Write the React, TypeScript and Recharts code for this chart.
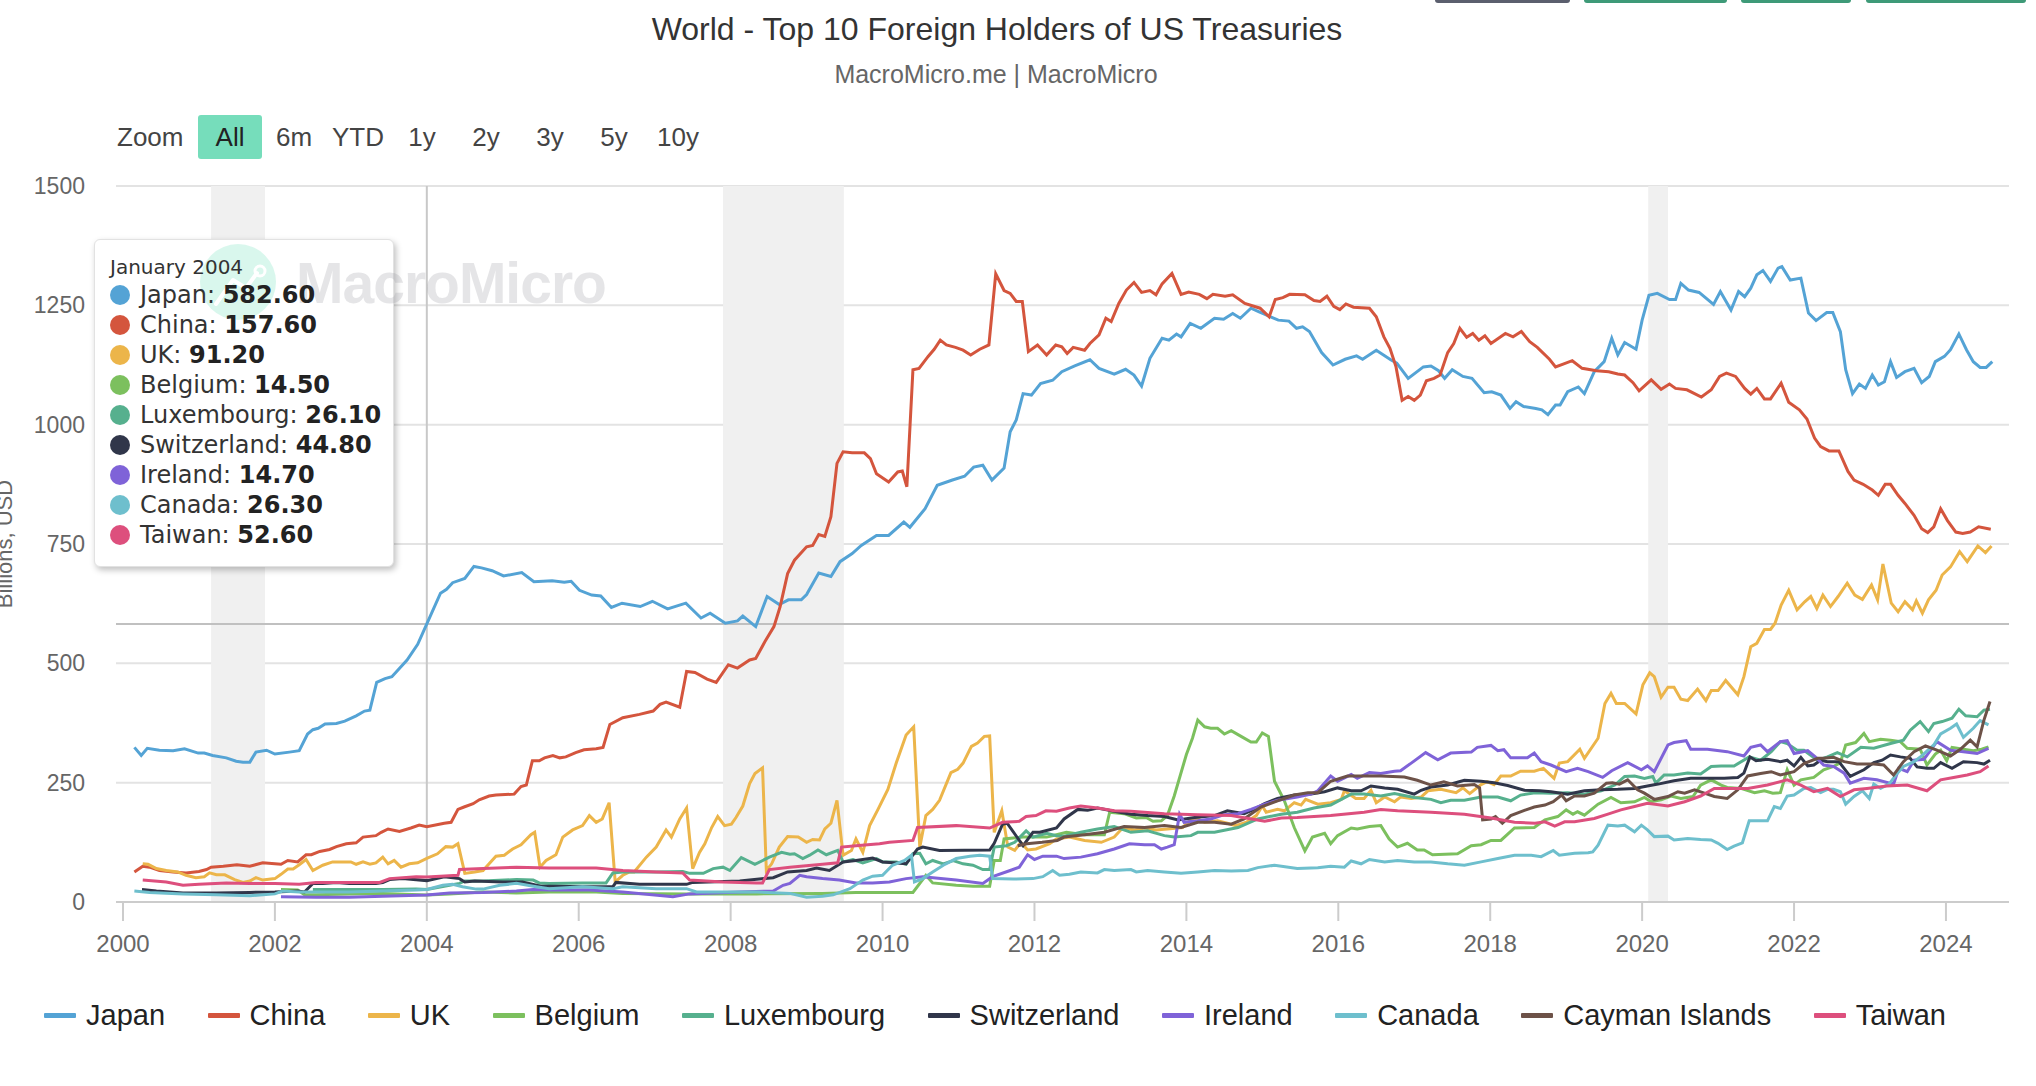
import React from "react";
import {
  LineChart,
  Line,
  XAxis,
  YAxis,
  CartesianGrid,
  ReferenceArea,
  ReferenceLine,
} from "recharts";

// [year, billions USD]
const japan = [
  [2000.15, 324], [2000.24, 307], [2000.32, 322], [2000.48, 318], [2000.66, 317], [2000.81, 321], [2000.99, 312],
  [2001.07, 312], [2001.18, 307], [2001.36, 302], [2001.49, 295], [2001.58, 293], [2001.67, 293], [2001.75, 314],
  [2001.89, 318], [2002.0, 310], [2002.19, 314], [2002.32, 317], [2002.43, 352], [2002.5, 361], [2002.57, 364],
  [2002.66, 373], [2002.81, 374], [2002.92, 379], [2003.07, 390], [2003.18, 400], [2003.25, 402], [2003.34, 460],
  [2003.45, 468], [2003.54, 472], [2003.74, 507], [2003.88, 540], [2004.0, 582.6], [2004.18, 647], [2004.26, 655],
  [2004.34, 669], [2004.5, 678], [2004.62, 703], [2004.72, 700], [2004.86, 694], [2005.01, 683], [2005.25, 690],
  [2005.41, 671], [2005.65, 673], [2005.81, 670], [2005.9, 672], [2006.01, 653], [2006.17, 643], [2006.29, 641],
  [2006.43, 617], [2006.57, 626], [2006.81, 619], [2006.97, 630], [2007.17, 614], [2007.41, 626], [2007.61, 595],
  [2007.73, 605], [2007.93, 584], [2008.09, 589], [2008.16, 599], [2008.33, 577], [2008.48, 640], [2008.64, 623],
  [2008.76, 633], [2008.93, 633], [2009.0, 644], [2009.16, 689], [2009.32, 682], [2009.44, 713], [2009.6, 730],
  [2009.72, 747], [2009.92, 768], [2010.08, 768], [2010.28, 796], [2010.36, 785], [2010.56, 824], [2010.72, 873],
  [2010.92, 884], [2011.08, 892], [2011.2, 911], [2011.32, 915], [2011.44, 884], [2011.6, 909], [2011.68, 985],
  [2011.76, 1010], [2011.85, 1065], [2011.96, 1062], [2012.08, 1086], [2012.24, 1093], [2012.36, 1111],
  [2012.53, 1123], [2012.73, 1136], [2012.85, 1118], [2013.05, 1106], [2013.2, 1116], [2013.31, 1104],
  [2013.41, 1081], [2013.52, 1139], [2013.68, 1181], [2013.77, 1177], [2013.87, 1190], [2013.93, 1184],
  [2014.05, 1212], [2014.19, 1202], [2014.37, 1223], [2014.49, 1221], [2014.61, 1233], [2014.71, 1223],
  [2014.85, 1244], [2014.95, 1237], [2015.05, 1230], [2015.21, 1219], [2015.35, 1217], [2015.45, 1202],
  [2015.53, 1205], [2015.62, 1195], [2015.78, 1151], [2015.93, 1125], [2016.09, 1137], [2016.24, 1144],
  [2016.32, 1137], [2016.5, 1156], [2016.69, 1136], [2016.77, 1129], [2016.92, 1097], [2017.12, 1121],
  [2017.22, 1123], [2017.32, 1113], [2017.4, 1097], [2017.5, 1115], [2017.64, 1101], [2017.76, 1097],
  [2017.92, 1067], [2018.02, 1069], [2018.14, 1062], [2018.26, 1034], [2018.34, 1048], [2018.44, 1038],
  [2018.6, 1034], [2018.68, 1031], [2018.76, 1021], [2018.86, 1041], [2018.92, 1041], [2019.02, 1069],
  [2019.16, 1079], [2019.24, 1065], [2019.37, 1111], [2019.5, 1132], [2019.6, 1181], [2019.68, 1146],
  [2019.77, 1172], [2019.92, 1158], [2020.0, 1219], [2020.09, 1271], [2020.2, 1275], [2020.36, 1262],
  [2020.44, 1262], [2020.51, 1296], [2020.61, 1282], [2020.75, 1277], [2020.94, 1252], [2021.03, 1279],
  [2021.17, 1240], [2021.27, 1279], [2021.35, 1268], [2021.43, 1286], [2021.51, 1314], [2021.59, 1323],
  [2021.69, 1300], [2021.79, 1328], [2021.84, 1331], [2021.95, 1303], [2022.09, 1307], [2022.19, 1234],
  [2022.29, 1218], [2022.43, 1235], [2022.51, 1235], [2022.61, 1195], [2022.68, 1115], [2022.77, 1065],
  [2022.86, 1085], [2022.94, 1076], [2023.03, 1104], [2023.11, 1083], [2023.19, 1090], [2023.27, 1132],
  [2023.35, 1099], [2023.46, 1111], [2023.58, 1118], [2023.68, 1088], [2023.78, 1101], [2023.86, 1132],
  [2023.98, 1143], [2024.06, 1157], [2024.17, 1190], [2024.27, 1157], [2024.36, 1132], [2024.45, 1120],
  [2024.53, 1120], [2024.61, 1132],
];

const china = [
  [2000.15, 63], [2000.26, 75], [2000.35, 73], [2000.48, 66], [2000.66, 63], [2000.83, 61], [2001.0, 64],
  [2001.1, 68], [2001.16, 73], [2001.32, 75], [2001.5, 78], [2001.67, 75], [2001.84, 82], [2002.0, 80],
  [2002.08, 79], [2002.17, 87], [2002.3, 84], [2002.41, 99], [2002.48, 99], [2002.59, 106], [2002.72, 110],
  [2002.81, 116], [2002.94, 122], [2003.07, 124], [2003.16, 136], [2003.33, 139], [2003.4, 146], [2003.49, 153],
  [2003.64, 148], [2003.79, 155], [2003.9, 161], [2004.0, 157.6], [2004.23, 165], [2004.32, 167], [2004.41, 194],
  [2004.49, 199], [2004.61, 206], [2004.69, 214], [2004.82, 222], [2004.91, 224], [2005.15, 226], [2005.24, 242],
  [2005.31, 245], [2005.39, 296], [2005.48, 296], [2005.55, 302], [2005.66, 307], [2005.75, 302], [2005.83, 304],
  [2005.96, 313], [2006.07, 319], [2006.23, 321], [2006.32, 324], [2006.41, 372], [2006.58, 386], [2006.8, 393],
  [2006.98, 400], [2007.07, 414], [2007.15, 419], [2007.33, 408], [2007.42, 483], [2007.53, 481], [2007.69, 467],
  [2007.81, 460], [2007.97, 497], [2008.09, 490], [2008.25, 507], [2008.33, 510], [2008.45, 545], [2008.57, 577],
  [2008.65, 618], [2008.75, 688], [2008.84, 716], [2009.0, 744], [2009.08, 747], [2009.16, 770], [2009.24, 766],
  [2009.32, 807], [2009.4, 919], [2009.48, 943], [2009.6, 941], [2009.76, 941], [2009.84, 929], [2009.92, 897],
  [2010.08, 880], [2010.2, 901], [2010.26, 903], [2010.32, 870], [2010.4, 1115], [2010.48, 1118], [2010.6, 1143],
  [2010.68, 1158], [2010.76, 1177], [2010.84, 1167], [2010.96, 1162], [2011.06, 1156], [2011.16, 1146],
  [2011.28, 1158], [2011.4, 1167], [2011.49, 1316], [2011.6, 1281], [2011.68, 1275], [2011.76, 1258],
  [2011.84, 1258], [2011.92, 1153], [2012.04, 1167], [2012.16, 1146], [2012.28, 1167], [2012.36, 1163],
  [2012.43, 1149], [2012.51, 1162], [2012.66, 1156], [2012.73, 1170], [2012.85, 1188], [2012.94, 1223],
  [2013.01, 1216], [2013.11, 1254], [2013.21, 1282], [2013.31, 1298], [2013.41, 1277], [2013.52, 1281],
  [2013.6, 1272], [2013.68, 1295], [2013.81, 1317], [2013.93, 1273], [2014.03, 1278], [2014.17, 1273],
  [2014.27, 1264], [2014.35, 1273], [2014.51, 1269], [2014.61, 1272], [2014.77, 1254], [2014.97, 1244],
  [2015.09, 1226], [2015.17, 1262], [2015.27, 1266], [2015.36, 1273], [2015.56, 1272], [2015.68, 1260],
  [2015.76, 1258], [2015.85, 1269], [2015.94, 1248], [2016.02, 1241], [2016.1, 1253], [2016.2, 1246],
  [2016.41, 1244], [2016.5, 1226], [2016.6, 1184], [2016.68, 1160], [2016.76, 1121], [2016.84, 1051],
  [2016.92, 1059], [2017.0, 1051], [2017.08, 1062], [2017.16, 1092], [2017.26, 1097], [2017.34, 1104],
  [2017.44, 1151], [2017.52, 1170], [2017.6, 1202], [2017.69, 1183], [2017.77, 1191], [2017.85, 1177],
  [2017.93, 1186], [2018.01, 1170], [2018.2, 1191], [2018.3, 1184], [2018.41, 1195], [2018.52, 1174],
  [2018.62, 1162], [2018.78, 1137], [2018.86, 1121], [2018.96, 1127], [2019.08, 1134], [2019.21, 1118],
  [2019.4, 1113], [2019.56, 1111], [2019.68, 1106], [2019.77, 1104], [2019.88, 1088], [2019.96, 1071],
  [2020.12, 1094], [2020.25, 1074], [2020.36, 1085], [2020.44, 1076], [2020.59, 1073], [2020.78, 1058],
  [2020.91, 1073], [2021.02, 1101], [2021.11, 1108], [2021.23, 1101], [2021.35, 1076], [2021.43, 1064],
  [2021.51, 1076], [2021.61, 1054], [2021.69, 1054], [2021.83, 1087], [2021.93, 1047], [2022.07, 1031],
  [2022.17, 1012], [2022.27, 972], [2022.35, 954], [2022.46, 945], [2022.59, 945], [2022.71, 902],
  [2022.79, 884], [2022.91, 875], [2023.03, 863], [2023.11, 852], [2023.2, 875], [2023.27, 875],
  [2023.37, 852], [2023.46, 835], [2023.58, 810], [2023.68, 782], [2023.76, 774], [2023.84, 786],
  [2023.93, 824], [2024.02, 799], [2024.13, 775], [2024.22, 772], [2024.32, 775], [2024.43, 786],
  [2024.59, 781],
];

const uk = [
  [2000.26, 80], [2000.33, 79], [2000.44, 70], [2000.57, 66], [2000.72, 63], [2000.83, 56], [2000.96, 51],
  [2001.07, 53], [2001.14, 61], [2001.23, 57], [2001.34, 57], [2001.47, 47], [2001.58, 41], [2001.67, 44],
  [2001.75, 51], [2001.84, 46], [2002.0, 49], [2002.08, 58], [2002.17, 69], [2002.24, 69], [2002.32, 78],
  [2002.41, 89], [2002.5, 66], [2002.63, 77], [2002.76, 84], [2002.89, 84], [2003.0, 84], [2003.07, 79],
  [2003.16, 84], [2003.25, 79], [2003.33, 82], [2003.42, 94], [2003.49, 80], [2003.57, 87], [2003.66, 73],
  [2003.77, 80], [2003.88, 82], [2004.0, 91.2], [2004.14, 101], [2004.25, 116], [2004.34, 115], [2004.41, 122],
  [2004.5, 60], [2004.63, 63], [2004.74, 66], [2004.82, 80], [2004.91, 96], [2005.02, 98], [2005.13, 111],
  [2005.24, 120], [2005.37, 141], [2005.42, 146], [2005.49, 73], [2005.57, 87], [2005.7, 99], [2005.79, 136],
  [2005.92, 151], [2006.05, 160], [2006.14, 181], [2006.23, 167], [2006.31, 174], [2006.4, 208], [2006.48, 42],
  [2006.58, 56], [2006.67, 63], [2006.73, 63], [2006.89, 94], [2007.02, 115], [2007.15, 151], [2007.22, 136],
  [2007.33, 174], [2007.42, 197], [2007.5, 70], [2007.59, 104], [2007.66, 122], [2007.75, 156], [2007.83, 179],
  [2007.92, 160], [2008.01, 163], [2008.07, 177], [2008.16, 201], [2008.25, 248], [2008.32, 269], [2008.42, 281],
  [2008.47, 66], [2008.54, 80], [2008.64, 115], [2008.75, 137], [2008.89, 136], [2009.0, 125], [2009.08, 131],
  [2009.17, 130], [2009.24, 153], [2009.32, 165], [2009.4, 213], [2009.48, 98], [2009.59, 108], [2009.65, 132],
  [2009.74, 104], [2009.83, 160], [2009.94, 194], [2010.07, 236], [2010.18, 291], [2010.31, 350], [2010.41, 367],
  [2010.49, 115], [2010.57, 181], [2010.66, 194], [2010.75, 213], [2010.9, 271], [2010.99, 278], [2011.06, 291],
  [2011.17, 326], [2011.25, 333], [2011.34, 347], [2011.41, 348], [2011.47, 146], [2011.57, 191], [2011.65, 115],
  [2011.74, 108], [2011.82, 125], [2011.91, 109], [2012.02, 111], [2012.2, 122], [2012.29, 132], [2012.46, 136],
  [2012.66, 129], [2012.88, 125], [2013.05, 136], [2013.16, 155], [2013.32, 151], [2013.45, 155], [2013.6, 151],
  [2013.75, 153], [2013.95, 156], [2014.04, 170], [2014.15, 174], [2014.24, 167], [2014.41, 170], [2014.54, 165],
  [2014.65, 160], [2014.79, 167], [2014.92, 181], [2015.0, 201], [2015.05, 188], [2015.2, 194], [2015.29, 191],
  [2015.42, 208], [2015.51, 203], [2015.57, 215], [2015.73, 205], [2015.9, 208], [2016.04, 215], [2016.08, 233],
  [2016.23, 217], [2016.34, 217], [2016.43, 234], [2016.5, 208], [2016.61, 220], [2016.74, 210], [2016.82, 220],
  [2016.96, 217], [2017.09, 220], [2017.18, 233], [2017.35, 236], [2017.55, 229], [2017.64, 239], [2017.73, 227],
  [2017.88, 246], [2017.96, 252], [2018.05, 246], [2018.14, 264], [2018.27, 264], [2018.4, 274], [2018.58, 274],
  [2018.7, 280], [2018.84, 259], [2018.91, 291], [2019.02, 294], [2019.18, 320], [2019.24, 301], [2019.42, 343],
  [2019.51, 416], [2019.59, 437], [2019.66, 416], [2019.77, 416], [2019.92, 394], [2020.01, 455], [2020.1, 480],
  [2020.16, 472], [2020.25, 429], [2020.34, 450], [2020.42, 450], [2020.51, 425], [2020.6, 422], [2020.73, 446],
  [2020.84, 422], [2020.91, 443], [2021.0, 443], [2021.1, 464], [2021.26, 434], [2021.34, 472], [2021.43, 535],
  [2021.51, 542], [2021.61, 571], [2021.69, 571], [2021.75, 584], [2021.83, 622], [2021.93, 653], [2022.04, 612],
  [2022.14, 629], [2022.22, 640], [2022.3, 615], [2022.38, 643], [2022.48, 619], [2022.58, 640], [2022.7, 668],
  [2022.8, 643], [2022.9, 634], [2023.02, 664], [2023.1, 633], [2023.17, 708], [2023.28, 626], [2023.37, 608],
  [2023.46, 629], [2023.56, 612], [2023.61, 631], [2023.69, 605], [2023.77, 633], [2023.87, 653], [2023.95, 685],
  [2024.06, 702], [2024.18, 734], [2024.28, 713], [2024.42, 746], [2024.52, 732], [2024.6, 746],
];

const belgium = [
  [2002.08, 26], [2002.3, 25], [2002.39, 15], [2002.54, 15], [2002.98, 17], [2003.42, 18], [2004.0, 14.5],
  [2004.3, 17], [2004.74, 21], [2005.18, 19], [2005.61, 21], [2006.23, 21], [2006.58, 18], [2007.46, 17],
  [2008.34, 17], [2009.21, 18], [2009.65, 20], [2010.4, 20], [2010.57, 56], [2010.66, 40], [2010.97, 35],
  [2011.19, 33], [2011.41, 33], [2011.47, 87], [2011.55, 87], [2011.6, 132], [2011.85, 136], [2012.16, 136],
  [2012.29, 141], [2012.42, 146], [2012.66, 141], [2012.92, 141], [2012.99, 188], [2013.18, 185], [2013.34, 176],
  [2013.47, 177], [2013.56, 169], [2013.67, 170], [2013.75, 181], [2013.84, 222], [2014.0, 309], [2014.08, 343],
  [2014.15, 381], [2014.24, 367], [2014.32, 364], [2014.41, 364], [2014.5, 352], [2014.59, 359], [2014.72, 347],
  [2014.85, 335], [2014.92, 335], [2015.0, 354], [2015.08, 347], [2015.16, 253], [2015.29, 212], [2015.42, 156],
  [2015.56, 107], [2015.66, 136], [2015.82, 144], [2015.9, 122], [2015.99, 139], [2016.17, 155], [2016.25, 153],
  [2016.41, 158], [2016.56, 160], [2016.67, 132], [2016.78, 115], [2016.91, 123], [2017.04, 109], [2017.13, 109],
  [2017.24, 99], [2017.57, 101], [2017.75, 118], [2017.88, 120], [2018.01, 129], [2018.14, 129], [2018.32, 155],
  [2018.58, 156], [2018.72, 172], [2018.89, 179], [2019.0, 193], [2019.09, 184], [2019.15, 189], [2019.24, 182],
  [2019.42, 205], [2019.59, 219], [2019.72, 208], [2019.9, 210], [2020.03, 219], [2020.12, 210], [2020.25, 214],
  [2020.38, 222], [2020.51, 217], [2020.67, 221], [2020.77, 245], [2020.91, 256], [2021.04, 245], [2021.12, 240],
  [2021.3, 238], [2021.48, 229], [2021.61, 233], [2021.72, 228], [2021.82, 229], [2021.91, 277], [2022.0, 245],
  [2022.09, 256], [2022.26, 261], [2022.39, 277], [2022.52, 284], [2022.61, 292], [2022.68, 329], [2022.81, 334],
  [2022.92, 353], [2022.99, 336], [2023.14, 341], [2023.27, 339], [2023.4, 336], [2023.49, 322], [2023.66, 320],
  [2023.75, 287], [2023.86, 310], [2023.93, 318], [2024.01, 296], [2024.08, 324], [2024.23, 320], [2024.36, 317],
  [2024.47, 320], [2024.56, 325],
];

const luxembourg = [
  [2002.5, 26], [2002.98, 26], [2003.42, 26], [2003.86, 27], [2004.0, 26.1], [2004.3, 35], [2004.43, 39],
  [2004.5, 44], [2004.74, 44], [2005.18, 47], [2005.4, 46], [2005.48, 40], [2005.61, 39], [2006.05, 40],
  [2006.36, 40], [2006.45, 61], [2006.58, 63], [2007.02, 63], [2007.37, 64], [2007.46, 60], [2007.64, 60],
  [2007.77, 70], [2007.9, 73], [2007.99, 66], [2008.14, 93], [2008.32, 79], [2008.51, 94], [2008.67, 104],
  [2008.78, 100], [2008.84, 101], [2008.95, 91], [2009.04, 98], [2009.15, 109], [2009.26, 99], [2009.41, 108],
  [2009.48, 84], [2009.61, 89], [2009.74, 82], [2009.92, 91], [2010.0, 84], [2010.18, 84], [2010.31, 79],
  [2010.4, 101], [2010.49, 102], [2010.57, 80], [2010.66, 87], [2010.8, 80], [2010.93, 87], [2011.06, 80],
  [2011.19, 77], [2011.32, 68], [2011.41, 68], [2011.47, 115], [2011.63, 118], [2011.74, 125], [2011.89, 149],
  [2011.98, 136], [2012.16, 144], [2012.29, 139], [2012.39, 138], [2012.61, 146], [2012.83, 153], [2013.05, 158],
  [2013.27, 146], [2013.49, 149], [2013.71, 139], [2013.84, 136], [2014.06, 139], [2014.15, 146], [2014.37, 146],
  [2014.68, 156], [2014.94, 174], [2015.25, 184], [2015.46, 188], [2015.68, 197], [2015.9, 203], [2016.04, 215],
  [2016.17, 226], [2016.34, 226], [2016.56, 222], [2016.74, 227], [2017.0, 219], [2017.22, 215], [2017.35, 208],
  [2017.48, 213], [2017.66, 213], [2017.88, 220], [2018.1, 220], [2018.27, 212], [2018.4, 224], [2018.59, 229],
  [2018.8, 228], [2019.02, 229], [2019.24, 226], [2019.46, 233], [2019.64, 245], [2019.77, 263], [2019.9, 264],
  [2020.03, 259], [2020.14, 263], [2020.18, 249], [2020.29, 266], [2020.42, 266], [2020.6, 270], [2020.77, 268],
  [2020.91, 284], [2021.04, 285], [2021.21, 285], [2021.41, 304], [2021.56, 297], [2021.7, 315], [2021.82, 336],
  [2021.91, 332], [2022.04, 318], [2022.13, 318], [2022.31, 297], [2022.44, 304], [2022.57, 313], [2022.7, 304],
  [2022.88, 324], [2023.05, 322], [2023.27, 332], [2023.44, 339], [2023.53, 360], [2023.66, 378], [2023.77, 357],
  [2023.84, 374], [2023.95, 378], [2024.08, 385], [2024.17, 404], [2024.26, 390], [2024.41, 388], [2024.5, 402],
  [2024.58, 404],
];

const switzerland = [
  [2000.25, 26], [2000.44, 23], [2000.79, 19], [2001.23, 19], [2001.67, 20], [2002.0, 21], [2002.3, 23],
  [2002.39, 21], [2002.5, 39], [2002.63, 39], [2002.81, 41], [2002.98, 39], [2003.33, 39], [2003.42, 41],
  [2003.51, 47], [2003.68, 49], [2004.0, 44.8], [2004.23, 53], [2004.43, 49], [2004.5, 42], [2004.63, 44],
  [2005.0, 42], [2005.26, 42], [2005.5, 33], [2005.7, 33], [2006.05, 32], [2006.45, 32], [2006.49, 41],
  [2006.8, 37], [2007.42, 37], [2007.5, 41], [2008.12, 44], [2008.56, 51], [2008.75, 63], [2009.0, 66],
  [2009.13, 71], [2009.3, 66], [2009.48, 84], [2009.65, 87], [2009.87, 92], [2010.0, 84], [2010.31, 80],
  [2010.46, 111], [2010.53, 115], [2010.75, 108], [2011.41, 109], [2011.47, 123], [2011.58, 163], [2011.64, 165],
  [2011.85, 118], [2011.98, 146], [2012.07, 146], [2012.29, 155], [2012.39, 174], [2012.57, 194], [2012.7, 192],
  [2012.83, 197], [2013.05, 190], [2013.27, 184], [2013.49, 181], [2013.71, 179], [2013.89, 172], [2014.11, 177],
  [2014.37, 181], [2014.54, 191], [2014.76, 185], [2014.89, 194], [2015.03, 206], [2015.2, 217], [2015.42, 224],
  [2015.64, 226], [2015.82, 231], [2015.99, 239], [2016.17, 233], [2016.3, 233], [2016.43, 243], [2016.61, 239],
  [2016.78, 236], [2017.0, 226], [2017.09, 234], [2017.22, 241], [2017.44, 245], [2017.66, 255], [2017.88, 253],
  [2018.05, 250], [2018.23, 244], [2018.45, 234], [2018.65, 233], [2018.8, 231], [2019.02, 226], [2019.24, 233],
  [2019.46, 235], [2019.68, 236], [2019.9, 238], [2020.07, 243], [2020.21, 247], [2020.42, 254], [2020.64, 259],
  [2020.86, 259], [2021.08, 259], [2021.26, 261], [2021.34, 270], [2021.42, 304], [2021.5, 296], [2021.65, 299],
  [2021.82, 294], [2021.91, 297], [2022.0, 285], [2022.09, 303], [2022.18, 285], [2022.26, 287], [2022.35, 297],
  [2022.44, 294], [2022.59, 294], [2022.74, 263], [2022.92, 277], [2023.05, 292], [2023.16, 297], [2023.27, 308],
  [2023.4, 304], [2023.53, 301], [2023.62, 283], [2023.75, 280], [2023.84, 280], [2023.93, 292], [2024.08, 280],
  [2024.23, 294], [2024.41, 292], [2024.5, 289], [2024.58, 297],
];

const ireland = [
  [2002.08, 11], [2002.54, 10], [2002.98, 10], [2003.42, 12], [2004.0, 14.7], [2004.3, 19], [2004.74, 20],
  [2005.18, 23], [2005.4, 26], [2005.61, 25], [2006.14, 25], [2006.58, 21], [2007.24, 11], [2007.46, 17],
  [2008.12, 21], [2008.56, 23], [2008.69, 35], [2008.78, 39], [2008.91, 56], [2009.0, 53], [2009.21, 49],
  [2009.43, 46], [2009.65, 40], [2009.87, 40], [2010.09, 42], [2010.31, 49], [2010.53, 53], [2010.97, 46],
  [2011.32, 39], [2011.45, 53], [2011.68, 66], [2011.8, 73], [2011.91, 99], [2012.0, 89], [2012.11, 96],
  [2012.29, 96], [2012.39, 91], [2012.61, 94], [2012.83, 101], [2013.05, 111], [2013.25, 122], [2013.45, 120],
  [2013.58, 120], [2013.67, 111], [2013.75, 115], [2013.84, 120], [2013.91, 184], [2013.97, 167], [2014.15, 170],
  [2014.32, 174], [2014.5, 183], [2014.68, 185], [2014.85, 194], [2015.03, 205], [2015.2, 213], [2015.46, 220],
  [2015.64, 226], [2015.73, 233], [2015.9, 264], [2015.99, 253], [2016.17, 267], [2016.25, 259], [2016.41, 271],
  [2016.56, 269], [2016.74, 274], [2016.82, 275], [2016.96, 291], [2017.15, 313], [2017.31, 298], [2017.48, 312],
  [2017.75, 314], [2017.83, 324], [2018.01, 328], [2018.1, 317], [2018.18, 319], [2018.27, 302], [2018.49, 302],
  [2018.58, 312], [2018.67, 294], [2018.8, 287], [2019.0, 273], [2019.15, 280], [2019.29, 273], [2019.48, 261],
  [2019.6, 275], [2019.81, 292], [2019.99, 277], [2020.07, 285], [2020.16, 273], [2020.34, 329], [2020.42, 334],
  [2020.58, 338], [2020.64, 320], [2020.86, 320], [2021.12, 315], [2021.34, 306], [2021.43, 324], [2021.56, 329],
  [2021.65, 315], [2021.82, 336], [2021.91, 338], [2022.0, 311], [2022.18, 317], [2022.28, 304], [2022.39, 287],
  [2022.52, 284], [2022.66, 270], [2022.74, 249], [2022.92, 259], [2023.09, 256], [2023.31, 247], [2023.38, 280],
  [2023.49, 273], [2023.58, 297], [2023.71, 299], [2023.88, 336], [2024.06, 318], [2024.23, 315], [2024.41, 311],
  [2024.56, 322],
];

const canada = [
  [2000.15, 23], [2000.35, 20], [2000.79, 17], [2001.23, 15], [2001.67, 13], [2002.0, 17], [2002.1, 23],
  [2002.32, 21], [2002.98, 21], [2003.42, 23], [2003.86, 25], [2004.0, 26.3], [2004.21, 35], [2004.34, 37],
  [2004.47, 32], [2004.65, 27], [2004.74, 27], [2004.96, 35], [2005.18, 39], [2005.44, 32], [2005.61, 28],
  [2006.05, 32], [2006.45, 28], [2006.58, 32], [2007.02, 28], [2007.42, 28], [2007.55, 21], [2007.9, 21],
  [2008.34, 21], [2008.78, 18], [2009.0, 10], [2009.21, 12], [2009.35, 15], [2009.57, 28], [2009.74, 46],
  [2009.87, 54], [2010.0, 56], [2010.13, 77], [2010.29, 87], [2010.38, 98], [2010.42, 42], [2010.53, 49],
  [2010.66, 63], [2010.8, 77], [2010.97, 91], [2011.15, 96], [2011.28, 98], [2011.41, 96], [2011.45, 49],
  [2011.72, 48], [2011.98, 49], [2012.11, 53], [2012.24, 66], [2012.33, 56], [2012.46, 58], [2012.61, 63],
  [2012.83, 61], [2012.92, 68], [2013.05, 66], [2013.27, 68], [2013.34, 63], [2013.49, 66], [2013.71, 63],
  [2013.93, 60], [2014.15, 63], [2014.37, 66], [2014.59, 65], [2014.81, 66], [2014.94, 72], [2015.16, 77],
  [2015.46, 70], [2015.73, 72], [2015.9, 75], [2016.08, 73], [2016.17, 86], [2016.3, 80], [2016.41, 89],
  [2016.61, 84], [2016.78, 87], [2017.0, 84], [2017.22, 84], [2017.44, 80], [2017.66, 77], [2017.88, 84],
  [2018.1, 91], [2018.32, 98], [2018.54, 98], [2018.67, 95], [2018.83, 108], [2018.91, 98], [2019.11, 102],
  [2019.29, 103], [2019.35, 105], [2019.42, 119], [2019.55, 161], [2019.68, 159], [2019.77, 161], [2019.9, 147],
  [2019.99, 161], [2020.07, 151], [2020.16, 137], [2020.34, 138], [2020.42, 130], [2020.6, 133], [2020.77, 131],
  [2020.91, 130], [2021.0, 123], [2021.12, 110], [2021.21, 117], [2021.32, 124], [2021.41, 170], [2021.52, 170],
  [2021.65, 170], [2021.74, 200], [2021.82, 196], [2021.91, 222], [2022.0, 224], [2022.13, 238], [2022.22, 240],
  [2022.35, 229], [2022.44, 236], [2022.52, 236], [2022.61, 231], [2022.68, 205], [2022.79, 221], [2022.9, 233],
  [2022.99, 217], [2023.05, 247], [2023.14, 238], [2023.25, 247], [2023.36, 270], [2023.44, 284], [2023.58, 294],
  [2023.68, 306], [2023.84, 329], [2023.93, 352], [2024.06, 364], [2024.14, 373], [2024.23, 345], [2024.36, 364],
  [2024.45, 380], [2024.56, 371],
];

const cayman = [
  [2011.78, 118], [2011.9, 122], [2012.1, 125], [2012.3, 129], [2012.39, 136], [2012.66, 141], [2012.92, 146],
  [2013.18, 158], [2013.45, 156], [2013.71, 160], [2013.93, 156], [2014.15, 167], [2014.37, 167], [2014.59, 163],
  [2014.76, 174], [2014.98, 199], [2015.2, 212], [2015.42, 224], [2015.6, 229], [2015.73, 229], [2015.9, 253],
  [2016.12, 264], [2016.34, 264], [2016.56, 264], [2016.87, 262], [2017.04, 255], [2017.22, 245], [2017.39, 252],
  [2017.57, 243], [2017.79, 246], [2017.86, 239], [2017.9, 172], [2018.01, 174], [2018.07, 179], [2018.16, 165],
  [2018.27, 181], [2018.45, 192], [2018.58, 199], [2018.72, 203], [2018.83, 210], [2018.94, 224], [2019.0, 212],
  [2019.11, 222], [2019.24, 222], [2019.37, 228], [2019.53, 249], [2019.61, 250], [2019.7, 247], [2019.81, 256],
  [2019.94, 235], [2020.03, 228], [2020.16, 215], [2020.34, 221], [2020.47, 231], [2020.56, 228], [2020.69, 235],
  [2020.82, 228], [2020.95, 221], [2021.12, 217], [2021.26, 235], [2021.39, 264], [2021.56, 269], [2021.7, 273],
  [2021.82, 266], [2022.0, 273], [2022.13, 290], [2022.31, 301], [2022.39, 301], [2022.52, 303], [2022.66, 294],
  [2022.83, 289], [2023.05, 289], [2023.18, 287], [2023.31, 266], [2023.44, 294], [2023.58, 315], [2023.73, 327],
  [2023.88, 318], [2024.06, 306], [2024.19, 320], [2024.32, 339], [2024.41, 325], [2024.5, 381], [2024.58, 420],
];

const taiwan = [
  [2000.26, 46], [2000.57, 42], [2000.79, 35], [2001.0, 37], [2001.36, 40], [2001.67, 39], [2002.0, 39],
  [2002.32, 37], [2002.54, 41], [2002.98, 41], [2003.38, 41], [2003.51, 49], [2003.86, 53], [2004.0, 52.6],
  [2004.41, 56], [2004.43, 68], [2004.74, 70], [2005.18, 73], [2005.61, 71], [2006.23, 71], [2006.58, 66],
  [2007.02, 63], [2007.37, 61], [2007.46, 46], [2007.9, 42], [2008.34, 40], [2008.42, 40], [2008.51, 68],
  [2008.78, 73], [2009.21, 79], [2009.41, 82], [2009.46, 115], [2009.65, 118], [2009.96, 122], [2010.09, 125],
  [2010.4, 129], [2010.46, 156], [2010.97, 160], [2011.41, 155], [2011.58, 167], [2011.8, 169], [2011.89, 179],
  [2012.02, 181], [2012.15, 191], [2012.29, 190], [2012.46, 197], [2012.61, 201], [2012.83, 197], [2013.05, 191],
  [2013.27, 190], [2013.71, 185], [2014.15, 183], [2014.59, 181], [2015.03, 169], [2015.25, 176], [2015.46, 177],
  [2015.9, 181], [2016.34, 188], [2016.56, 194], [2016.78, 191], [2017.22, 188], [2017.66, 184], [2018.01, 176],
  [2018.32, 167], [2018.59, 165], [2018.72, 168], [2018.85, 159], [2018.98, 168], [2019.11, 168], [2019.37, 175],
  [2019.55, 184], [2019.72, 193], [2019.9, 200], [2020.07, 207], [2020.34, 201], [2020.56, 210], [2020.77, 222],
  [2020.95, 238], [2021.12, 238], [2021.39, 238], [2021.65, 245], [2021.91, 256], [2022.09, 245], [2022.26, 231],
  [2022.44, 238], [2022.61, 221], [2022.79, 235], [2022.96, 238], [2023.22, 243], [2023.49, 245], [2023.75, 233],
  [2023.93, 256], [2024.1, 261], [2024.28, 266], [2024.45, 273], [2024.56, 285],
];

const seriesNames = [
  "Japan", "China", "UK", "Belgium", "Luxembourg",
  "Switzerland", "Ireland", "Canada", "Cayman Islands", "Taiwan",
];
const seriesValues = [japan, china, uk, belgium, luxembourg, switzerland, ireland, canada, cayman, taiwan];
const seriesColors = [
  "#54a3d5", "#d4553d", "#ecb54a", "#7cc05e", "#56b08e",
  "#30364a", "#7f63d8", "#6ebfcd", "#6d5248", "#dd4f7d",
];

const yTicks = [0, 250, 500, 750, 1000, 1250, 1500];
const xTicks = [2000, 2002, 2004, 2006, 2008, 2010, 2012, 2014, 2016, 2018, 2020, 2022, 2024];
const recessions = [[2001.16, 2001.87], [2007.9, 2009.49], [2020.08, 2020.34]];
const zoomButtons = ["All", "6m", "YTD", "1y", "2y", "3y", "5y", "10y"];

// tooltip snapshot, January 2004
const tooltipTitle = "January 2004";
const tooltipRows = [
  ["Japan", "582.60"], ["China", "157.60"], ["UK", "91.20"], ["Belgium", "14.50"],
  ["Luxembourg", "26.10"], ["Switzerland", "44.80"], ["Ireland", "14.70"], ["Canada", "26.30"],
  ["Taiwan", "52.60"],
];

const FONT = "'Liberation Sans', Arial, sans-serif";
const TIP_FONT = "'DejaVu Sans', 'Liberation Sans', sans-serif";

const toPoints = (arr) => arr.map(([x, v]) => ({ x, v }));

const tipBox = { position: "absolute", left: 94, top: 239, width: 300, height: 328, boxSizing: "border-box" };

export default function App() {
  return (
    <div
      style={{
        position: "absolute",
        left: 0,
        top: 0,
        width: 2036,
        height: 1086,
        background: "#fff",
        overflow: "hidden",
        fontFamily: FONT,
      }}
    >
      {/* slivers of toolbar buttons at the top edge */}
      <div style={{ position: "absolute", top: 0, left: 1435, width: 135, height: 3, background: "#5b5f6e", borderRadius: "0 0 3px 3px" }} />
      <div style={{ position: "absolute", top: 0, left: 1584, width: 143, height: 3, background: "#3e9a78", borderRadius: "0 0 3px 3px" }} />
      <div style={{ position: "absolute", top: 0, left: 1741, width: 110, height: 3, background: "#3e9a78", borderRadius: "0 0 3px 3px" }} />
      <div style={{ position: "absolute", top: 0, left: 1866, width: 160, height: 3, background: "#3e9a78", borderRadius: "0 0 3px 3px" }} />

      <div style={{ position: "absolute", top: 11, left: 0, width: 1994, textAlign: "center", fontSize: 32, color: "#333" }}>
        World - Top 10 Foreign Holders of US Treasuries
      </div>
      <div style={{ position: "absolute", top: 60, left: 0, width: 1992, textAlign: "center", fontSize: 25, color: "#666" }}>
        MacroMicro.me | MacroMicro
      </div>

      {/* range selector */}
      <div style={{ position: "absolute", top: 115, left: 117, height: 44, display: "flex", alignItems: "center", fontSize: 26, color: "#444" }}>
        <span style={{ width: 81 }}>Zoom</span>
        {zoomButtons.map((b, i) => (
          <span
            key={b}
            style={{
              width: 64,
              height: 44,
              lineHeight: "44px",
              textAlign: "center",
              background: i === 0 ? "#76ddbb" : "transparent",
              borderRadius: 3,
              color: i === 0 ? "#222" : "#444",
            }}
          >
            {b}
          </span>
        ))}
      </div>

      <div style={{ position: "absolute", left: 0, top: 0 }}>
        <LineChart width={2036} height={1086} margin={{ top: 186, right: 27, left: 0, bottom: 0 }}>
          {recessions.map(([a, b]) => (
            <ReferenceArea key={a} x1={a} x2={b} y1={0} y2={1500} fill="#f0f0f0" fillOpacity={1} stroke="none" />
          ))}
          <CartesianGrid vertical={false} stroke="#e3e3e3" strokeWidth={2} />
          <XAxis
            dataKey="x"
            type="number"
            domain={[1999.908, 2024.83]}
            ticks={xTicks}
            allowDataOverflow
            height={184}
            tickSize={19}
            tickMargin={14}
            stroke="#cccccc"
            strokeWidth={2}
            tick={{ fontSize: 24, fill: "#666", fontFamily: FONT }}
          />
          <YAxis
            type="number"
            domain={[0, 1500]}
            ticks={yTicks}
            width={116}
            axisLine={false}
            tickLine={false}
            tickSize={6}
            tickMargin={25}
            tick={{ fontSize: 23, fill: "#666", fontFamily: FONT }}
          />
          <ReferenceLine x={2004} stroke="#c8c8c8" strokeWidth={2} />
          <ReferenceLine y={582.6} stroke="#c0c0c0" strokeWidth={2} />
          {seriesValues.map((vals, i) => (
            <Line
              key={seriesNames[i]}
              data={toPoints(vals)}
              dataKey="v"
              name={seriesNames[i]}
              type="linear"
              stroke={seriesColors[i]}
              strokeWidth={3}
              dot={false}
              activeDot={false}
              isAnimationActive={false}
            />
          ))}
        </LineChart>
      </div>

      {/* y axis title, partly clipped by the left edge as in the source */}
      <div
        style={{
          position: "absolute",
          left: 5,
          top: 544,
          transform: "translate(-50%, -50%) rotate(-90deg)",
          fontSize: 22,
          color: "#666",
          whiteSpace: "nowrap",
        }}
      >
        Billions, USD
      </div>

      {/* static tooltip: box, then the watermark, then its text */}
      <div
        style={{
          ...tipBox,
          background: "#fff",
          border: "1px solid #e2e2e2",
          borderRadius: 6,
          boxShadow: "2px 3px 6px rgba(0,0,0,0.25)",
        }}
      />

      <div style={{ position: "absolute", left: 200, top: 244, width: 76, height: 76, borderRadius: "50%", background: "rgba(120,225,190,0.28)" }} />
      <svg style={{ position: "absolute", left: 200, top: 244 }} width={76} height={76}>
        <polyline points="16,60 33,36 46,44 57,29" fill="none" stroke="#fff" strokeWidth={4} strokeLinejoin="round" strokeLinecap="round" />
        <circle cx={60} cy={27} r={5} fill="none" stroke="#fff" strokeWidth={3} />
      </svg>
      <div style={{ position: "absolute", left: 296, top: 250, fontSize: 57, fontWeight: 700, color: "rgba(150,150,160,0.25)", letterSpacing: -1 }}>
        MacroMicro
      </div>

      <div style={{ ...tipBox, fontFamily: TIP_FONT, color: "#333", padding: "15px 0 0 16px" }}>
        <div style={{ fontSize: 20, lineHeight: "26px" }}>{tooltipTitle}</div>
        {tooltipRows.map(([name, val]) => (
          <div key={name} style={{ display: "flex", alignItems: "center", height: 30, fontSize: 24, whiteSpace: "nowrap" }}>
            <span
              style={{
                width: 20,
                height: 20,
                borderRadius: "50%",
                background: seriesColors[seriesNames.indexOf(name)],
                marginRight: 10,
                flexShrink: 0,
              }}
            />
            <span>{name}:&nbsp;</span>
            <b style={{ color: "#222" }}>{val}</b>
          </div>
        ))}
      </div>

      {/* legend */}
      <div style={{ position: "absolute", left: 44, top: 996, display: "flex", alignItems: "center", height: 38, gap: 42.5, fontSize: 29, color: "#222" }}>
        {seriesNames.map((n, i) => (
          <div key={n} style={{ display: "flex", alignItems: "center" }}>
            <span style={{ width: 32, height: 5, background: seriesColors[i], marginRight: 10, borderRadius: 1 }} />
            <span>{n}</span>
          </div>
        ))}
      </div>
    </div>
  );
}
